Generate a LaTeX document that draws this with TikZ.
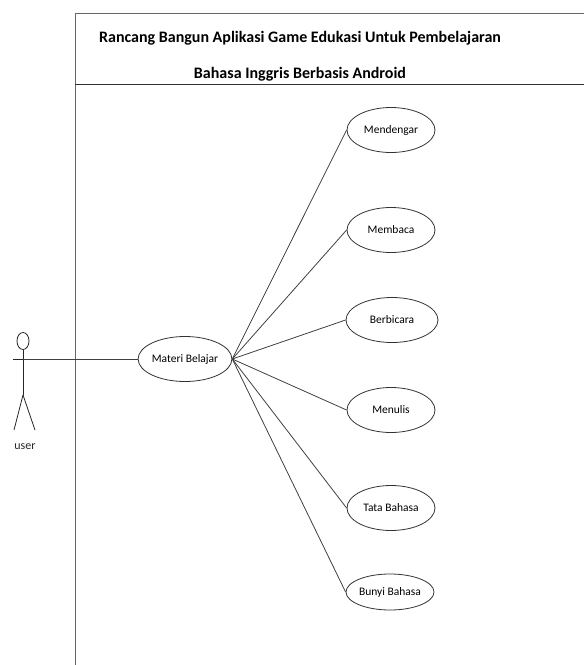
\documentclass[tikz,border=0pt]{standalone}
\usepackage{fontspec}
\setmainfont{Carlito}
\usetikzlibrary{shapes.geometric}

\begin{document}
\begin{tikzpicture}[x=1pt,y=-1pt,line width=0.8pt,
	usecase/.style={ellipse,draw=black!80,inner sep=0pt,
		minimum width=88pt,minimum height=45pt,font=\fontsize{11.5}{13}\selectfont},
	link/.style={draw=black!75}]
	\useasboundingbox (0,0) rectangle (584,665);
	% system boundary
	\draw[black!60] (584,13) -- (75,13) -- (75,665);
	\draw[black!80] (75,84) -- (584,84);
	\node[font=\bfseries\fontsize{16}{18}\selectfont] (title1) at (300,38)
		{Rancang Bangun Aplikasi Game Edukasi Untuk Pembelajaran};
	\node[font=\bfseries\fontsize{16}{18}\selectfont] (title2) at (300,74)
		{Bahasa Inggris Berbasis Android};
	% actor
	\begin{scope}[black!85]
		\draw (23,341) ellipse [x radius=6,y radius=8.5];
		\coordinate (neck) at (23,349.5);
		\coordinate (hip) at (23,395);
		\coordinate (lhand) at (13,359);
		\coordinate (rhand) at (35,359);
		\coordinate (lfoot) at (14,430);
		\coordinate (rfoot) at (35,430);
		\draw (neck) -- (hip);
		\draw (lhand) -- (rhand);
		\draw (hip) -- (lfoot);
		\draw (hip) -- (rfoot);
		\node[font=\fontsize{12}{13}\selectfont] (user) at (25,447) {user};
	\end{scope}
	\coordinate (actor) at (23,359);
	% use cases
	\node[usecase,minimum width=91pt] (materi) at (185,359) {Materi Belajar};
	\node[usecase] (mendengar) at (391,130) {Mendengar};
	\node[usecase] (membaca) at (391,230) {Membaca};
	\node[usecase,minimum width=92pt] (berbicara) at (392,320) {Berbicara};
	\node[usecase] (menulis) at (391,410) {Menulis};
	\node[usecase] (tata) at (391,508) {Tata Bahasa};
	\node[usecase,minimum height=36pt] (bunyi) at (390,592) {Bunyi Bahasa};
	\draw[link] (actor) -- (materi.west);
	\foreach \E in {mendengar, membaca, berbicara, menulis, tata, bunyi}
		\draw[link] (materi.east) -- (\E.west);
\end{tikzpicture}
\end{document}
